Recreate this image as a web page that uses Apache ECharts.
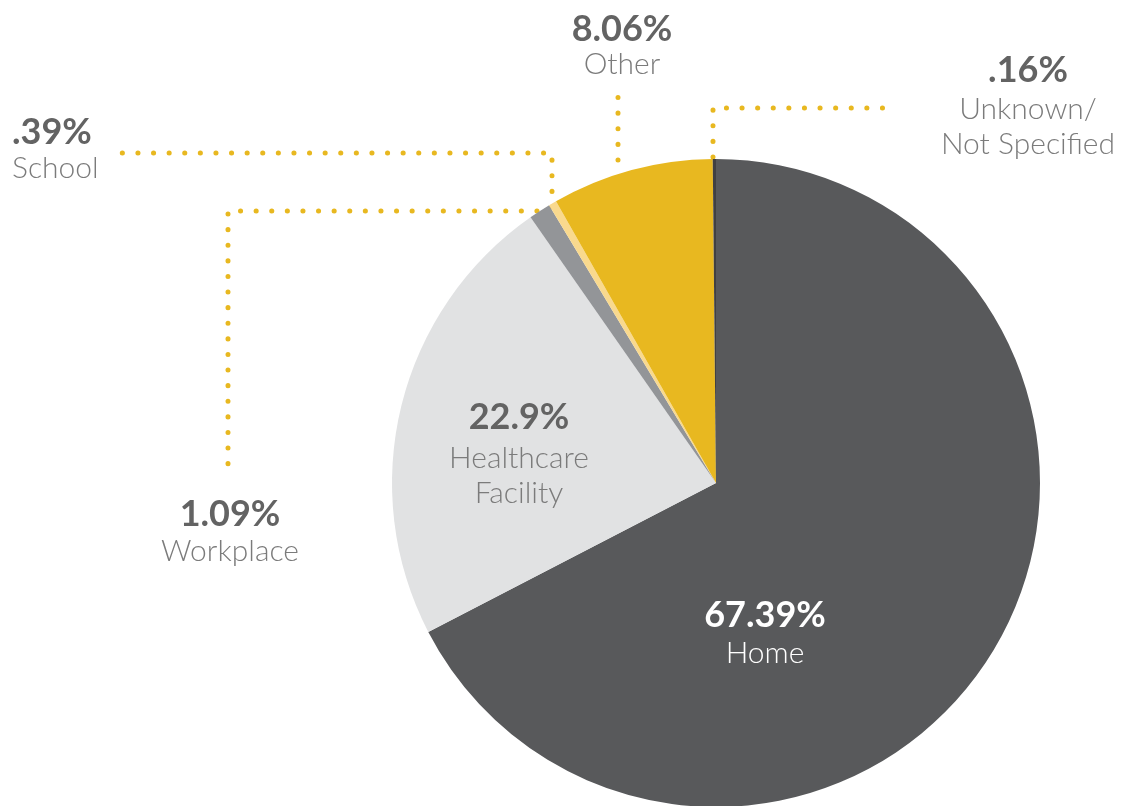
<!DOCTYPE html>
<html>
<head>
<meta charset="utf-8">
<script src="https://cdn.jsdelivr.net/npm/echarts@6/dist/echarts.min.js"></script>
<style>
  html, body { margin: 0; padding: 0; background: #fff; }
  #chart { width: 1138px; height: 806px; }
</style>
</head>
<body>
<div id="chart"></div>
<script>
var categories = ['Home', 'Healthcare\nFacility', 'Workplace', 'School', 'Other', 'Unknown/\nNot Specified'];
var shares = [67.39, 22.9, 1.09, 0.39, 8.06, 0.16];
var colors = ['#58595b', '#e1e2e3', '#939598', '#f9d98e', '#e8b820', '#404042'];

(function(){
    var YELLOW = '#e8b820';

    // label anchor (x, top y, align, line height of the % row) and leader line points, per slice
    var layout = [
        {x: 765, y: 595, lh: 41, align: 'center', line: null},
        {x: 519, y: 394, lh: 47, align: 'center', line: null},
        {x: 230, y: 495, lh: 39, align: 'center', line: [[537, 211], [228, 211], [228, 471]]},
        {x: 12, y: 114, lh: 37, align: 'left', line: [[552, 207], [552, 153], [122, 153]]},
        {x: 622, y: 12, lh: 35, align: 'center', line: [[618, 160], [618, 126], [618, 93]]},
        {x: 1028, y: 49, lh: 43, align: 'center', line: [[713, 157], [713, 108], [895, 108]]}
    ];

    function pct(v){
        return String(v).replace(/^0/, '') + '%';
    }

    var data = categories.map(function(name, i){
        var inside = i === 0;
        return {
            name: name,
            value: shares[i],
            itemStyle: {color: colors[i]},
            label: {
                formatter: '{v|' + pct(shares[i]) + '}\n{n|' + name.replace('\n', '}\n{n|') + '}',
                rich: {
                    v: {fontSize: 36, fontWeight: 'bold', lineHeight: layout[i].lh,
                        fontFamily: 'Lato', color: inside ? '#ffffff' : '#636363',
                        align: layout[i].align},
                    n: {fontSize: 30, fontWeight: 300, lineHeight: 35,
                        fontFamily: 'Lato', color: inside ? '#ffffff' : '#7b7b7b',
                        align: layout[i].align}
                }
            },
            labelLine: {show: !!layout[i].line}
        };
    });

    var myChart = echarts.init(document.getElementById('chart'));
    myChart.setOption({
        animation: false,
        series: [{
            type: 'pie',
            center: [716, 483],
            radius: 324,
            startAngle: 90,
            clockwise: true,
            silent: true,
            avoidLabelOverlap: false,
            minShowLabelAngle: 0,
            itemStyle: {borderWidth: 0},
            label: {show: true, position: 'outside'},
            labelLine: {
                show: true,
                lineStyle: {color: YELLOW, width: 5, type: [0.1, 15.5], cap: 'round'}
            },
            labelLayout: function(params){
                var l = layout[params.dataIndex];
                var res = {x: l.x, y: l.y, align: l.align, verticalAlign: 'top'};
                if (l.line) res.labelLinePoints = l.line;
                return res;
            },
            data: data
        }]
    });
}());
</script>
</body>
</html>
